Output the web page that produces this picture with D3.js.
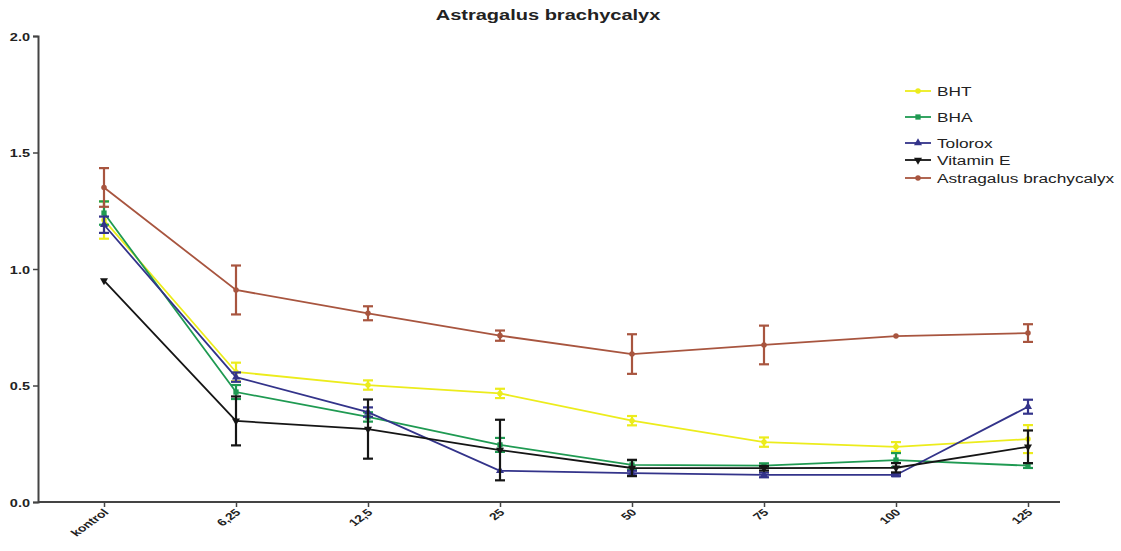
<!DOCTYPE html>
<html>
<head>
<meta charset="utf-8">
<script src="https://cdn.jsdelivr.net/npm/d3@7"></script>
<style>
  html, body { margin: 0; padding: 0; background: #fff; }
  svg { display: block; font-family: "Liberation Sans", Arial, sans-serif; }
</style>
</head>
<body>
<svg id="chart" width="1121" height="551"></svg>
<script>
// Concentration groups on the x axis
const categories = ["kontrol", "6,25", "12,5", "25", "50", "75", "100", "125"];

// Mean values per group
const bhtValues    = [1.21, 0.558, 0.502, 0.466, 0.349, 0.257, 0.237, 0.270];
const bhaValues    = [1.24, 0.472, 0.365, 0.245, 0.159, 0.156, 0.180, 0.156];
const toloroxValues = [1.19, 0.536, 0.386, 0.134, 0.124, 0.116, 0.116, 0.409];
const vitEValues   = [0.95, 0.348, 0.313, 0.223, 0.146, 0.145, 0.147, 0.237];
const astraValues  = [1.35, 0.910, 0.810, 0.714, 0.635, 0.674, 0.712, 0.725];

// Error (± deviation) per group
const bhtErr    = [0.08, 0.040, 0.020, 0.020, 0.020, 0.020, 0.020, 0.060];
const bhaErr    = [0.05, 0.030, 0.020, 0.030, 0.020, 0.010, 0.030, 0.010];
const toloroxErr = [0.035, 0.020, 0.020, 0.000, 0.010, 0.010, 0.005, 0.030];
const vitEErr   = [0.00, 0.105, 0.127, 0.130, 0.035, 0.010, 0.020, 0.070];
const astraErr  = [0.083, 0.105, 0.030, 0.022, 0.085, 0.083, 0.000, 0.038];

const yTicks = [0, 0.5, 1.0, 1.5, 2.0];
const seriesNames = ["BHT", "BHA", "Tolorox", "Vitamin E", "Astragalus brachycalyx"];
const chartTitle = "Astragalus brachycalyx";

const series = [
  { name: seriesNames[0], values: bhtValues,     err: bhtErr,     color: "#ecec1c", marker: "circle" },
  { name: seriesNames[1], values: bhaValues,     err: bhaErr,     color: "#1f9a52", marker: "square" },
  { name: seriesNames[2], values: toloroxValues, err: toloroxErr, color: "#33338a", marker: "triangle" },
  { name: seriesNames[3], values: vitEValues,    err: vitEErr,    color: "#151515", marker: "triangleDown" },
  { name: seriesNames[4], values: astraValues,   err: astraErr,   color: "#a8553f", marker: "circle" }
];

// Text in this figure is set slightly wide
const SX = 1.38;

const svg = d3.select("#chart");

const plot = { left: 38, right: 1094, top: 36, bottom: 502, axisEnd: 1060 };

const x = d3.scalePoint().domain(categories).range([plot.left, plot.right]).padding(0.5);
const y = d3.scaleLinear().domain([0, 2]).range([plot.bottom, plot.top]);

// Title
svg.append("text")
  .attr("transform", `translate(548,20) scale(${SX},1)`)
  .attr("text-anchor", "middle")
  .attr("font-size", 14.5).attr("font-weight", "bold")
  .attr("fill", "#222")
  .text(chartTitle);

// Y axis
const yAxis = svg.append("g")
  .attr("transform", `translate(${plot.left},0)`)
  .call(d3.axisLeft(y).tickValues(yTicks).tickFormat(d3.format(".1f")).tickSize(5).tickPadding(3));
yAxis.select(".domain").attr("stroke", "#444").attr("stroke-width", 2);
yAxis.selectAll(".tick line").attr("stroke", "#444").attr("stroke-width", 1.5);
yAxis.selectAll(".tick text")
  .attr("font-size", 10.5).attr("font-weight", "bold").attr("fill", "#222")
  .attr("font-family", "Liberation Sans, Arial, sans-serif")
  .attr("x", null).attr("dy", null)
  .attr("y", 4)
  .attr("transform", `translate(-8,0) scale(${SX},1)`);

// X axis
const xAxis = svg.append("g")
  .attr("transform", `translate(0,${plot.bottom})`)
  .call(d3.axisBottom(x).tickSize(5).tickSizeOuter(0));
xAxis.select(".domain").remove();
xAxis.insert("line", ":first-child")
  .attr("x1", plot.left).attr("x2", plot.axisEnd)
  .attr("y1", 0).attr("y2", 0)
  .attr("stroke", "#444").attr("stroke-width", 2);
xAxis.selectAll(".tick line").attr("stroke", "#444").attr("stroke-width", 1.5);
xAxis.selectAll(".tick text")
  .attr("font-size", 10).attr("font-weight", "bold").attr("fill", "#222")
  .attr("font-family", "Liberation Sans, Arial, sans-serif")
  .attr("text-anchor", "end")
  .attr("dy", null)
  .attr("y", 0)
  .attr("transform", `translate(5,11) scale(${SX},1) rotate(-45)`);

// Marker symbols
const symbolFor = {
  circle: d3.symbol().type(d3.symbolCircle).size(24),
  square: d3.symbol().type(d3.symbolSquare).size(28),
  triangle: d3.symbol().type(d3.symbolTriangle).size(28),
  triangleDown: d3.symbol().type(d3.symbolTriangle).size(28)
};
function drawMarker(g, kind, cx, cy, color) {
  const rot = kind === "triangleDown" ? " rotate(180)" : "";
  g.append("path")
    .attr("d", symbolFor[kind]())
    .attr("transform", `translate(${cx},${cy})${rot}`)
    .attr("fill", color);
}

const line = d3.line()
  .x((d, i) => x(categories[i]))
  .y(d => y(d));

const capHalf = 5;
series.forEach(s => {
  const g = svg.append("g");
  g.append("path")
    .datum(s.values)
    .attr("d", line)
    .attr("fill", "none")
    .attr("stroke", s.color)
    .attr("stroke-width", 1.8);

  s.values.forEach((v, i) => {
    const cx = x(categories[i]);
    const e = s.err[i];
    if (e > 0) {
      const y1 = y(v + e), y2 = y(v - e);
      g.append("line").attr("x1", cx).attr("x2", cx).attr("y1", y1).attr("y2", y2)
        .attr("stroke", s.color).attr("stroke-width", 2.2);
      [y1, y2].forEach(yy => {
        g.append("line").attr("x1", cx - capHalf).attr("x2", cx + capHalf)
          .attr("y1", yy).attr("y2", yy)
          .attr("stroke", s.color).attr("stroke-width", 2.2);
      });
    }
    drawMarker(g, s.marker, cx, y(v), s.color);
  });
});

// Legend
const legendY = [91, 117, 143, 160, 178];
const legend = svg.append("g");
series.forEach((s, i) => {
  const ly = legendY[i];
  legend.append("line")
    .attr("x1", 905).attr("x2", 931).attr("y1", ly).attr("y2", ly)
    .attr("stroke", s.color).attr("stroke-width", 1.8);
  drawMarker(legend, s.marker, 918, ly, s.color);
  legend.append("text")
    .attr("transform", `translate(937,${ly + 4.5}) scale(${SX},1)`)
    .attr("font-size", 12.5).attr("fill", "#222")
    .text(s.name);
});
</script>
</body>
</html>
